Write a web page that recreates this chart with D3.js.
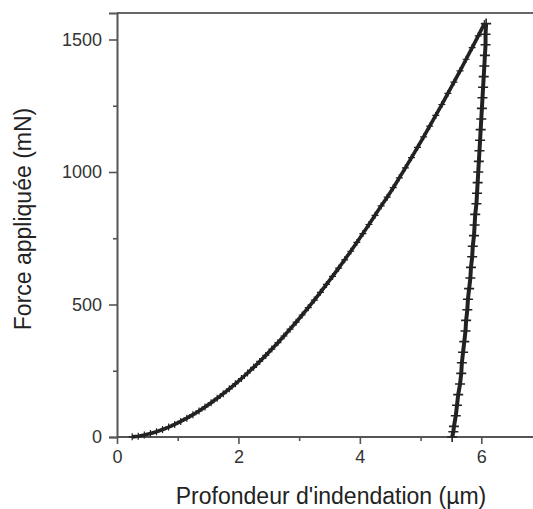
<!DOCTYPE html>
<html><head><meta charset="utf-8">
<script src="https://cdn.jsdelivr.net/npm/d3@7"></script>
<style>html,body{margin:0;padding:0;background:#fff;}svg{display:block;}</style>
</head><body>
<script>
// Loading curve (depth µm, force mN)
const loadDepth = [0.25,0.35,0.45,0.55,0.65,0.75,0.85,0.95,1.05,1.15,1.25,1.35,1.45,1.55,1.65,1.75,1.85,1.95,2.05,2.15,2.25,2.35,2.45,2.55,2.65,2.75,2.85,2.95,3.05,3.15,3.25,3.35,3.45,3.55,3.65,3.75,3.85,3.95,4.05,4.15,4.25,4.35,4.45,4.55,4.65,4.75,4.85,4.95,5.05,5.15,5.25,5.35,5.45,5.55,5.65,5.75,5.85,5.95,6.05];
const loadForce = [0.5,3.1,7.3,13.0,20.0,28.1,37.3,47.6,58.9,71.1,84.3,98.4,113.4,129.3,146.0,163.5,181.8,200.9,220.8,241.5,262.9,285.2,308.0,331.7,356.0,381.1,406.9,433.2,460.3,488.2,516.6,545.8,575.6,606.1,637.2,668.7,701.0,734.2,767.7,801.8,836.6,872.1,905.0,940.7,977.9,1015.7,1054.2,1093.1,1132.8,1172.9,1213.5,1254.7,1296.5,1339.0,1381.9,1425.4,1469.6,1513.9,1560.0];
// Unloading curve
const unloadForce = [1560,1520,1480,1440,1400,1360,1320,1280,1240,1200,1160,1120,1080,1040,1000,960,920,880,840,800,760,720,680,640,600,560,520,480,440,400,360,320,280,240,200,160,120,80,40,20,0];
const unloadDepth = [6.08,6.07,6.07,6.06,6.05,6.04,6.03,6.02,6.01,6.00,5.99,5.98,5.97,5.96,5.95,5.94,5.93,5.92,5.90,5.89,5.88,5.86,5.85,5.83,5.82,5.80,5.78,5.77,5.75,5.74,5.72,5.70,5.68,5.67,5.65,5.62,5.60,5.58,5.55,5.54,5.52];
const xTicks = [0,2,4,6];
const xMinor = [1,3,5];
const yTicks = [0,500,1000,1500];
const yMinor = [250,750,1250];

const W = 533, H = 509;
const svg = d3.select("body").append("svg").attr("width", W).attr("height", H);
const x = d3.scaleLinear().domain([0,7]).range([117, 542]);
const y = d3.scaleLinear().domain([0,1600]).range([437, 13]);
const axisCol = "#555", txtCol = "#333";
const font = "Liberation Sans, Arial, sans-serif";

// frame: top border
svg.append("line").attr("x1",117).attr("x2",W).attr("y1",13).attr("y2",13).attr("stroke","#666").attr("stroke-width",2);

const gx = svg.append("g").attr("transform","translate(0,437)")
  .call(d3.axisBottom(x).tickValues(xTicks).tickSize(7).tickPadding(6).tickFormat(d3.format("d")));
const gxm = svg.append("g").attr("transform","translate(0,437)")
  .call(d3.axisBottom(x).tickValues(xMinor).tickSize(4).tickFormat(""));
const gy = svg.append("g").attr("transform","translate(117,0)")
  .call(d3.axisLeft(y).tickValues(yTicks).tickSize(8).tickPadding(7).tickFormat(d3.format("d")));
const gym = svg.append("g").attr("transform","translate(117,0)")
  .call(d3.axisLeft(y).tickValues(yMinor).tickSize(4).tickFormat(""));
[gx,gxm,gy,gym].forEach(g=>{
  g.select(".domain").attr("stroke",axisCol).attr("stroke-width",2);
  g.selectAll(".tick line").attr("stroke",axisCol).attr("stroke-width",1.6);
  g.selectAll(".tick text").attr("fill",txtCol).style("font-family",font).style("font-size","18px");
});
gx.select(".domain").attr("d", `M117,0H${W}`);
gxm.select(".domain").remove();
gym.select(".domain").remove();

// curves
const load = loadDepth.map((d,i)=>[d, loadForce[i]]);
const unload = unloadDepth.map((d,i)=>[d, unloadForce[i]]);
const line = d3.line().x(d=>x(d[0])).y(d=>y(d[1]));
svg.append("path").datum(load).attr("d",line).attr("fill","none").attr("stroke","#222").attr("stroke-width",3.6);
svg.append("path").datum(unload).attr("d",line).attr("fill","none").attr("stroke","#222").attr("stroke-width",4);
function drawPlus(data, s, sw){
  svg.append("g").selectAll("path").data(data).join("path")
    .attr("d", `M${-s},0H${s}M0,${-s}V${s}`)
    .attr("transform", d=>`translate(${x(d[0])},${y(d[1])})`)
    .attr("stroke","#222").attr("stroke-width",sw).attr("fill","none");
}
drawPlus(load, 3.5, 1.2);
drawPlus(unload, 5, 1.6);

// labels
svg.append("text").attr("x",331).attr("y",504).attr("text-anchor","middle")
  .attr("fill","#222").style("font-family",font).style("font-size","23px").text("Profondeur d'indendation (µm)");
svg.append("text").attr("transform","translate(31,219) rotate(-90)").attr("text-anchor","middle")
  .attr("fill","#222").style("font-family",font).style("font-size","23px").text("Force appliquée (mN)");
</script>
</body></html>
